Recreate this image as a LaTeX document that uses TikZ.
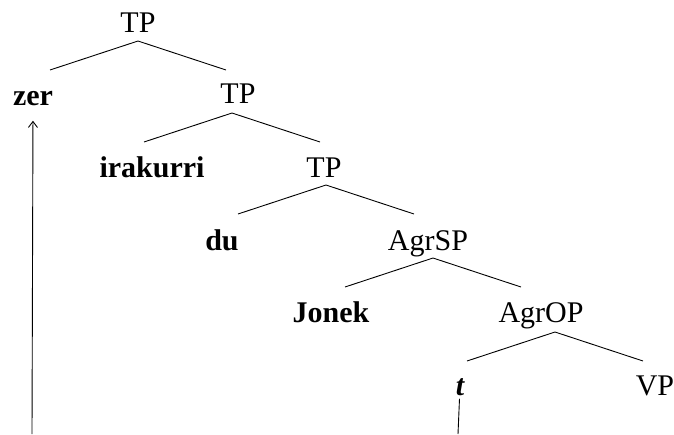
\documentclass[tikz,border=0pt]{standalone}
\usepackage{fontspec}
\setmainfont{Liberation Serif}
\usetikzlibrary{positioning}
\usetikzlibrary{arrows.meta}

\begin{document}
\begin{tikzpicture}[
    x=1pt, y=-1pt,
    line width=0.9pt,
    font=\fontsize{30}{34}\selectfont
]
\tikzset{
    cat/.style = {anchor=base, inner sep=3pt},
    lex/.style = {anchor=base, inner sep=3pt, font=\fontsize{30}{34}\selectfont\bfseries},
    branch/.style = {-},
    move/.style = {-{Straight Barb[length=6pt,width=9pt]}, shorten >=12pt}
}
\useasboundingbox (0,0) rectangle (674,434);
% labels
\node[cat] at (138,32) (tp1) {TP};
\node[lex] at (33,105) (zer) {zer};
\node[cat] at (238,103) (tp2) {TP};
\node[lex] at (152,177) (irakurri) {irakurri};
\node[cat] at (324,177) (tp3) {TP};
\node[lex] at (222,250) (du) {du};
\node[cat] at (428,250) (agrs) {AgrSP};
\node[lex] at (331,322) (jonek) {Jonek};
\node[cat] at (541,322) (agro) {AgrOP};
\node[lex] at (460,395) (t) {\itshape t};
\node[cat] at (655,395) (vp) {VP};
% branch tops
\coordinate (tp1-top) at (138,41);
\coordinate (tp2-top) at (232,113);
\coordinate (tp3-top) at (326,185);
\coordinate (agrs-top) at (433,258);
\coordinate (agro-top) at (555,332);
\foreach \p in {tp1,tp2,tp3,agrs,agro}{
    \path (\p-top) ++(-88,29) coordinate (\p-l);
    \path (\p-top) ++(88,29) coordinate (\p-r);
    \draw[branch] (\p-l) -- (\p-top) -- (\p-r);
}
% trace and movement
\coordinate (t-foot) at (458,434);
\coordinate (zer-foot) at (32,434);
\draw[branch] (t) -- (t-foot);
\draw[move] (zer-foot) -- (zer.south);
\end{tikzpicture}
\end{document}
